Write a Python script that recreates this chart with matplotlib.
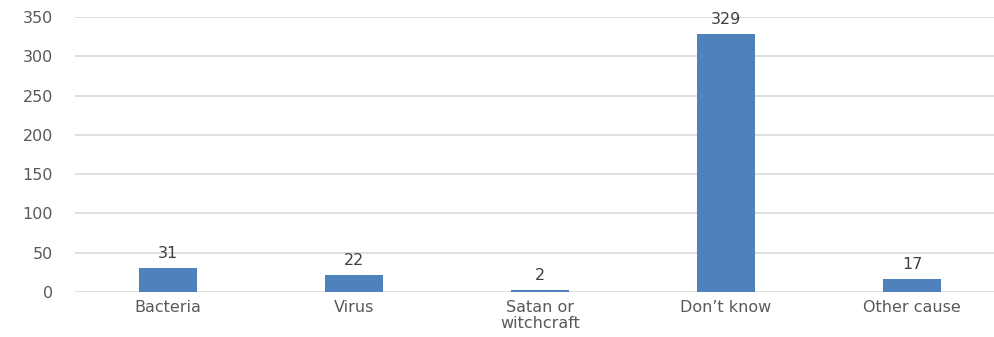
import matplotlib
matplotlib.use('Agg')
import matplotlib.pyplot as plt
import numpy as np

categories = ['Bacteria', 'Virus', 'Satan or\nwitchcraft', 'Don\u2019t know', 'Other cause']
counts = [31, 22, 2, 329, 17]
y_ticks = [0, 50, 100, 150, 200, 250, 300, 350]

fig = plt.figure(figsize=(9.94, 3.37), dpi=100)
ax = fig.add_axes([75 / 994, 45 / 337, 1 - 75 / 994, 275 / 337])

x = np.arange(len(categories))
bars = ax.bar(x, counts, width=0.31, color='#4F81BD', zorder=3)

# value labels above bars
for rect, val in zip(bars, counts):
    ax.annotate(str(val), (rect.get_x() + rect.get_width() / 2, rect.get_height()),
                xytext=(0, 5), textcoords='offset points',
                ha='center', va='bottom', fontsize=11.5, color='#404040')

ax.set_xlim(-0.5, 4.44)
ax.set_ylim(0, 350)
ax.set_yticks(y_ticks)
ax.set_xticks(x)
ax.set_xticklabels(categories, fontsize=11.5, color='#595959', linespacing=1.05)
ax.tick_params(axis='y', labelsize=11.5, labelcolor='#595959', length=0, pad=16)
ax.tick_params(axis='x', length=0, pad=6)
ax.grid(axis='y', color='#D9D9D9', linewidth=1.2, zorder=0)
for s in ax.spines.values():
    s.set_visible(False)

plt.savefig('out.png', dpi=100)
plt.close()
